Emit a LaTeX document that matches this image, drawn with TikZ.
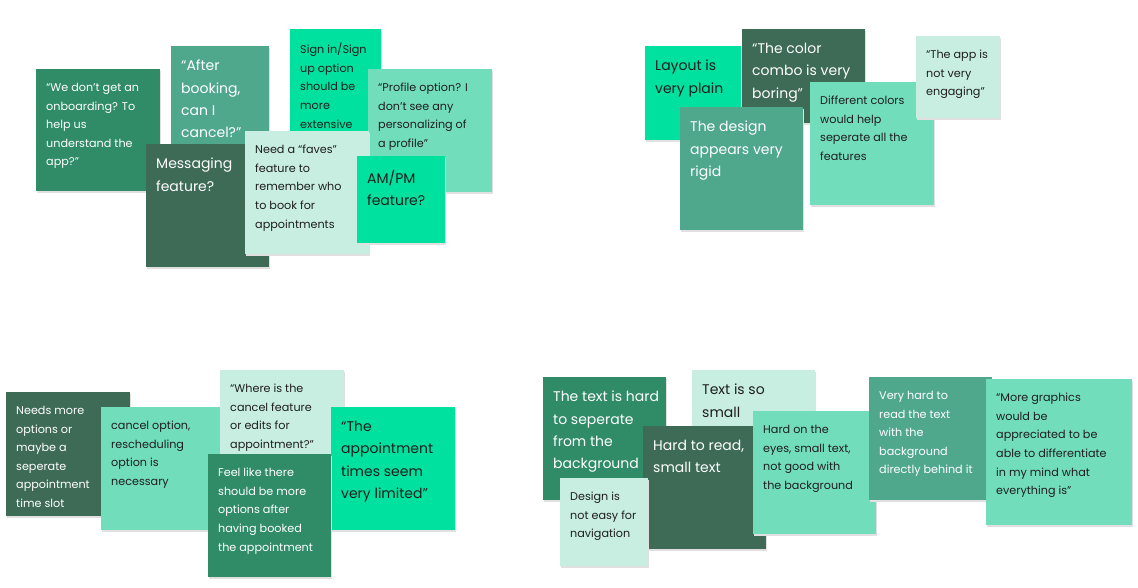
\documentclass[tikz,border=0pt]{standalone}
\usepackage{fontspec}
\setmainfont{Poppins}
\definecolor{cdark}{HTML}{3D6B55}
\definecolor{cmed}{HTML}{2F8C67}
\definecolor{cmid}{HTML}{4FA88C}
\definecolor{cbright}{HTML}{00E09E}
\definecolor{cmint}{HTML}{72DDBB}
\definecolor{clight}{HTML}{C8EEE2}
\definecolor{ctext}{HTML}{1E1E1E}
\newcommand\stickynote[9]{%
  \fill[black!12] (#2+1,#3+2) rectangle ++(#4,#5);
  \fill[#6] (#2,#3) rectangle ++(#4,#5);
  \node[anchor=north west,inner sep=0pt,align=left,text=#7,font=#8]
    (#1) at (#2+10,#3+14) {#9};}
\begin{document}
\begin{tikzpicture}[x=1pt,y=-1pt]
\useasboundingbox (0,0) rectangle (1138,588);
\def\sm{\fontsize{11.2}{18.6}\selectfont}
\def\lg{\fontsize{14}{22.3}\selectfont}
% group 1
\stickynote{a1}{36}{69}{124}{122}{cmed}{white}{\sm}{“We don’t get an\\onboarding? To\\help us\\understand the\\app?”}
\stickynote{a2}{171}{46}{98}{104}{cmid}{white}{\lg}{“After\\booking,\\can I\\cancel?”}
\stickynote{a3}{146}{144}{123}{123}{cdark}{white}{\lg}{Messaging\\feature?}
\stickynote{a4}{290}{29}{91}{102}{cbright}{ctext}{\sm}{Sign in/Sign\\up option\\should be\\more\\extensive}
\stickynote{a5}{368}{69}{124}{123}{cmint}{ctext}{\sm}{“Profile option? I\\don’t see any\\personalizing of\\a profile”}
\stickynote{a6}{245}{131}{124}{123}{clight}{ctext}{\sm}{Need a “faves”\\feature to\\remember who\\to book for\\appointments}
\stickynote{a7}{357}{156}{88}{87}{cbright}{ctext}{\lg}{AM/PM\\feature?}
% group 2
\stickynote{b1}{645}{46}{96}{94}{cbright}{ctext}{\lg}{Layout is\\very plain}
\stickynote{b2}{742}{29}{123}{94}{cdark}{white}{\lg}{“The color\\combo is very\\boring”}
\stickynote{b3}{680}{107}{123}{123}{cmid}{white}{\lg}{The design\\appears very\\rigid}
\stickynote{b4}{810}{82}{124}{123}{cmint}{ctext}{\sm}{Different colors\\would help\\seperate all the\\features}
\stickynote{b5}{916}{36}{84}{82}{clight}{ctext}{\sm}{“The app is\\not very\\engaging”}
% group 3
\stickynote{c1}{6}{392}{124}{124}{cdark}{white}{\sm}{Needs more\\options or\\maybe a\\seperate\\appointment\\time slot}
\stickynote{c2}{101}{407}{124}{123}{cmint}{ctext}{\sm}{cancel option,\\rescheduling\\option is\\necessary}
\stickynote{c3}{220}{370}{124}{124}{clight}{ctext}{\sm}{“Where is the\\cancel feature\\or edits for\\appointment?”}
\stickynote{c4}{331}{407}{124}{123}{cbright}{ctext}{\lg}{“The\\appointment\\times seem\\very limited”}
\stickynote{c5}{208}{454}{123}{123}{cmed}{white}{\sm}{Feel like there\\should be more\\options after\\having booked\\the appointment}
% group 4
\stickynote{d1}{543}{377}{123}{123}{cmed}{white}{\lg}{The text is hard\\to seperate\\from the\\background}
\stickynote{d2}{692}{370}{123}{80}{clight}{ctext}{\lg}{Text is so\\small}
\stickynote{d3}{643}{426}{123}{123}{cdark}{white}{\lg}{Hard to read,\\small text}
\stickynote{d4}{560}{478}{88}{88}{clight}{ctext}{\sm}{Design is\\not easy for\\navigation}
\stickynote{d5}{753}{411}{123}{123}{cmint}{ctext}{\sm}{Hard on the\\eyes, small text,\\not good with\\the background}
\stickynote{d6}{869}{377}{123}{123}{cmid}{white}{\sm}{Very hard to\\read the text\\with the\\background\\directly behind it}
\stickynote{d7}{986}{379}{146}{146}{cmint}{ctext}{\sm}{“More graphics\\would be\\appreciated to be\\able to differentiate\\in my mind what\\everything is”}
\end{tikzpicture}
\end{document}
